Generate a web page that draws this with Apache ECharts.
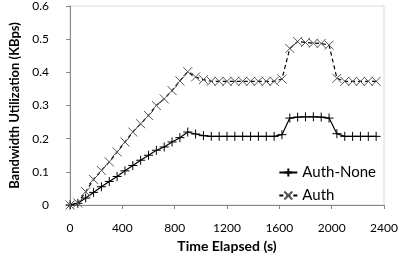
<!DOCTYPE html>
<html>
<head>
<meta charset="utf-8">
<title>Bandwidth</title>
<script src="https://cdn.jsdelivr.net/npm/echarts@6/dist/echarts.min.js"></script>
<style>
  html, body { margin: 0; padding: 0; background: #fff; }
</style>
</head>
<body>
<div id="main" style="width: 409px; height: 258px;"></div>
<script type="text/javascript">
// time stamps (s)
var times = [0, 60, 120, 180, 240, 300, 360, 420, 480, 540, 600, 660, 720, 780, 840, 900,
  960, 1020, 1080, 1140, 1200, 1260, 1320, 1380, 1440, 1500, 1560, 1620, 1680, 1740,
  1800, 1860, 1920, 1980, 2040, 2100, 2160, 2220, 2280, 2340];

var authNone = [0, 0.005, 0.021, 0.038, 0.055, 0.071, 0.086, 0.103, 0.119, 0.135, 0.150, 0.165, 0.175, 0.190, 0.203, 0.220,
  0.214, 0.209, 0.207, 0.207, 0.207, 0.207, 0.207, 0.207, 0.207, 0.207, 0.207, 0.212, 0.262, 0.265,
  0.266, 0.266, 0.265, 0.262, 0.215, 0.207, 0.207, 0.207, 0.207, 0.207];

var auth = [0, 0.006, 0.040, 0.077, 0.104, 0.130, 0.160, 0.190, 0.220, 0.245, 0.270, 0.300, 0.320, 0.345, 0.374, 0.402,
  0.386, 0.378, 0.373, 0.373, 0.373, 0.373, 0.373, 0.373, 0.373, 0.373, 0.373, 0.380, 0.472, 0.493,
  0.490, 0.488, 0.487, 0.482, 0.382, 0.373, 0.373, 0.373, 0.373, 0.373];

var seriesNames = ['Auth-None', 'Auth'];

function pairs(vals) {
  var out = [];
  for (var i = 0; i < times.length; i++) out.push([times[i], vals[i]]);
  return out;
}

var plusSym = 'path://M0,5L10,5M5,0L5,10';
var crossSym = 'path://M0,0L10,10M10,0L0,10';

var myChart = echarts.init(document.getElementById('main'));
var font = 'Lato, "Liberation Sans", sans-serif';

var option = {
  animation: false,
  grid: {
    left: 70, right: 25, top: 5, bottom: 50,
    show: true, borderColor: '#d9d9d9', borderWidth: 1
  },
  legend: {
    orient: 'vertical',
    right: 28,
    top: 160,
    itemWidth: 18,
    itemHeight: 10,
    itemGap: 8,
    textStyle: { fontFamily: font, fontSize: 15, color: '#000' },
    data: seriesNames
  },
  xAxis: {
    type: 'value',
    min: 0, max: 2400, interval: 400,
    name: 'Time Elapsed (s)',
    nameLocation: 'middle',
    nameGap: 34,
    nameTextStyle: { fontFamily: font, fontSize: 14, fontWeight: 'bold', color: '#000' },
    axisLine: { lineStyle: { color: '#868686' } },
    axisTick: { show: true, length: 4, lineStyle: { color: '#868686' } },
    axisLabel: { fontFamily: font, fontSize: 12, color: '#000', margin: 17,
      formatter: function (v) { return String(v); } },
    splitLine: { show: false }
  },
  yAxis: {
    type: 'value',
    min: 0, max: 0.6, interval: 0.1,
    name: 'Bandwidth Utilization (KBps)',
    nameLocation: 'middle',
    nameRotate: 90,
    nameGap: 46,
    nameTextStyle: { fontFamily: font, fontSize: 13, fontWeight: 'bold', color: '#000' },
    axisLine: { show: true, lineStyle: { color: '#868686' } },
    axisTick: { show: true, length: 4, lineStyle: { color: '#868686' } },
    axisLabel: { fontFamily: font, fontSize: 12, color: '#000', margin: 21 },
    splitLine: { show: false }
  },
  series: [
    {
      name: seriesNames[0],
      type: 'line',
      data: pairs(authNone),
      symbol: plusSym,
      symbolSize: 9,
      itemStyle: { color: '#000', borderColor: '#000', borderWidth: 1 },
      lineStyle: { color: '#000', width: 1.2 }
    },
    {
      name: seriesNames[1],
      type: 'line',
      data: pairs(auth),
      symbol: crossSym,
      symbolSize: 9,
      itemStyle: { color: '#555', borderColor: '#555', borderWidth: 1 },
      lineStyle: { color: '#000', width: 1.2, type: [4, 3] }
    }
  ]
};

myChart.setOption(option);
</script>
</body>
</html>
